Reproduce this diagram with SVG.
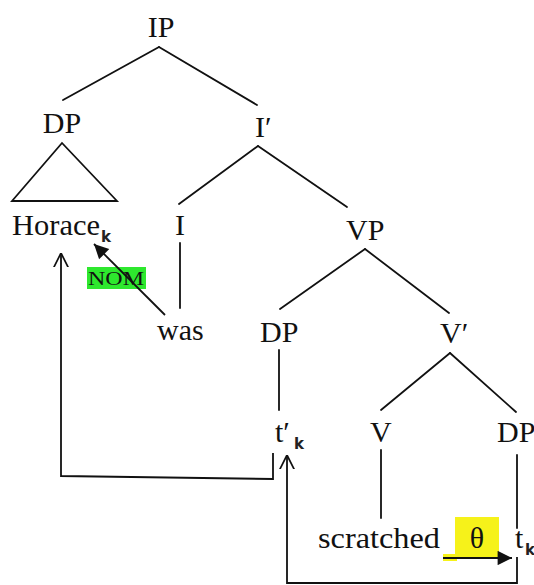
<svg xmlns="http://www.w3.org/2000/svg" width="534" height="585" viewBox="0 0 534 585">
<style>
.t{font-family:"Liberation Serif","Times New Roman",serif;font-size:30px;fill:#111}
.s{font-family:"DejaVu Sans","Liberation Sans",sans-serif;font-size:15px;font-weight:bold;fill:#222}
.e{stroke:#111;stroke-width:1.8;fill:none;stroke-linecap:round}
.m{stroke:#111;stroke-width:1.8;fill:none}
</style>
<defs>
<marker id="fa" viewBox="0 0 10 10" refX="10" refY="5" markerWidth="9" markerHeight="8" markerUnits="strokeWidth" orient="auto">
<path d="M0,0 L10,5 L0,10 z" fill="#111"/>
</marker>
<marker id="oa" viewBox="0 0 10 10" refX="10" refY="5" markerWidth="8" markerHeight="9" markerUnits="strokeWidth" orient="auto">
<path d="M0,0 L10,5 L0,10" fill="none" stroke="#111" stroke-width="1.2"/>
</marker>
</defs>
<rect width="534" height="585" fill="#fff"/>
<g id="highlights">
<rect x="87" y="267" width="59" height="22" fill="#2ee82e"/>
<rect x="455" y="517" width="44" height="42" fill="#f6f21a"/>
<rect x="443" y="554" width="14" height="7" fill="#f6f21a"/>
</g>
<g id="connectors">
<line class="e" x1="159" y1="47" x2="63" y2="100"/>
<line class="e" x1="159" y1="47" x2="257" y2="105"/>
<path class="e" d="M62,143 L12,201 L117,201 Z"/>
<line class="e" x1="258" y1="146" x2="179" y2="204"/>
<line class="e" x1="258" y1="146" x2="347" y2="207"/>
<line class="e" x1="180" y1="243" x2="180" y2="308"/>
<line class="e" x1="365" y1="249" x2="280" y2="309"/>
<line class="e" x1="365" y1="249" x2="449" y2="313"/>
<line class="e" x1="279" y1="350" x2="279" y2="410"/>
<line class="e" x1="450" y1="353" x2="381" y2="410"/>
<line class="e" x1="450" y1="353" x2="516" y2="412"/>
<line class="e" x1="381" y1="450" x2="381" y2="518"/>
<line class="e" x1="517" y1="455" x2="517" y2="528"/>
<path class="m" d="M273,453 L273,479 L61,476 L61,253" marker-end="url(#oa)"/>
<path class="m" d="M517,557 L517,583 L287,583 L287,455" marker-end="url(#oa)"/>
<line class="m" x1="165" y1="315" x2="94" y2="244" marker-end="url(#fa)"/>
<line class="m" x1="443" y1="558" x2="512" y2="558" stroke-width="1.4" marker-end="url(#fa)"/>
</g>
<g id="IP"><text class="t" x="161" y="37" text-anchor="middle">IP</text></g>
<g id="DP1"><text class="t" x="62" y="133" text-anchor="middle">DP</text></g>
<g id="Ibar"><text class="t" x="255" y="137">I′</text></g>
<g id="Horace"><text class="t" x="12" y="235" textLength="88" lengthAdjust="spacingAndGlyphs">Horace</text><text class="s" x="101" y="242">k</text></g>
<g id="I"><text class="t" x="180" y="235" text-anchor="middle">I</text></g>
<g id="VP"><text class="t" x="346" y="240">VP</text></g>
<g id="NOM"><text x="116" y="285" text-anchor="middle" font-family="Liberation Serif,serif" font-size="19" fill="#111" textLength="56" lengthAdjust="spacingAndGlyphs">NOM</text></g>
<g id="was"><text class="t" x="157" y="340">was</text></g>
<g id="DP2"><text class="t" x="260" y="342">DP</text></g>
<g id="Vbar"><text class="t" x="440" y="343">V′</text></g>
<g id="tprime"><text class="t" x="275" y="442">t′</text><text class="s" x="294" y="449">k</text></g>
<g id="V"><text class="t" x="370" y="442">V</text></g>
<g id="DP3"><text class="t" x="497" y="442">DP</text></g>
<g id="scratched"><text class="t" x="318" y="548" textLength="122" lengthAdjust="spacingAndGlyphs">scratched</text></g>
<g id="theta"><text class="t" x="477" y="548" text-anchor="middle">θ</text></g>
<g id="t"><text class="t" x="515" y="548">t</text><text class="s" x="525" y="555">k</text></g>
</svg>
